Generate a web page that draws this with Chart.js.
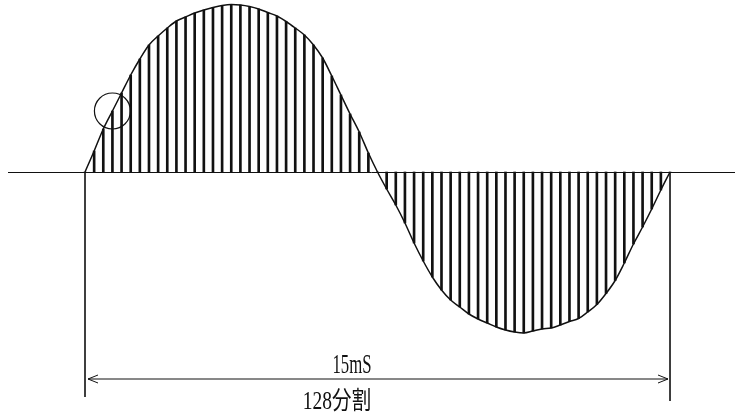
<!DOCTYPE html>
<html>
<head>
	<title>128 sample waveform</title>
	<script src="https://cdn.jsdelivr.net/npm/chart.js@4.4.1/dist/chart.umd.min.js"></script>
	<style>
		html, body { margin: 0; padding: 0; background: #fff; overflow: hidden; }
		canvas { display: block; }
	</style>
</head>
<body>
	<canvas id="wave" width="735" height="414"></canvas>
<script>
	var upperHalf = [0, 21, 43, 61, 79, 97, 113, 127, 136, 144, 151, 155, 159, 162, 164.5, 166.5,
		167.5, 167, 165.5, 163, 159.5, 156, 150.5, 144, 137, 127, 114, 96, 77, 58, 40, 19, 0];
	var lowerHalf = [-17, -33, -51, -71, -89, -105, -118, -128, -135, -142, -147, -151, -155, -158, -160, -161,
		-159, -157, -156, -153, -149.5, -146.5, -140, -132.5, -121.5, -108.5, -91, -72, -55, -37, -18, 0];
	var wave = upperHalf.concat(lowerHalf);
	var steps = wave.map(function (v, i) { return i; });

	var spanLabel = '15mS';
	var divLabel = '128分割';
	var markedStep = 3;   // sample ringed on the rising edge

	// draws text squeezed horizontally, like the narrow lettering of the drawing
	function narrowText(ctx, text, cx, base, size, squeeze) {
		ctx.save();
		ctx.font = size + 'px "Liberation Serif", "Noto Sans CJK JP"';
		ctx.translate(cx, base);
		ctx.scale(squeeze, 1);
		ctx.fillText(text, 0, 0);
		ctx.restore();
	}

	// base line, extension lines, dimension arrow and texts
	var dimensionPlugin = {
		id: 'dimension',
		afterDatasetsDraw: function (chart) {
			var ctx = chart.ctx, x = chart.scales.x, y = chart.scales.y;
			var area = chart.chartArea;
			var y0 = y.getPixelForValue(0);
			var xs = x.getPixelForValue(steps[0]);
			var xe = x.getPixelForValue(steps[steps.length - 1]);
			var dimY = 379;
			ctx.save();
			ctx.strokeStyle = '#111';
			ctx.lineWidth = 1;
			ctx.beginPath();
			ctx.moveTo(area.left, y0 + 0.5);
			ctx.lineTo(area.right, y0 + 0.5);
			ctx.stroke();

			ctx.lineWidth = 1.6;
			ctx.beginPath();
			ctx.moveTo(xs, y0); ctx.lineTo(xs, 397);
			ctx.moveTo(xe, y0); ctx.lineTo(xe, 401);
			ctx.stroke();

			ctx.lineWidth = 1;
			ctx.beginPath();
			ctx.moveTo(xs + 3, dimY); ctx.lineTo(xe - 2, dimY);
			ctx.moveTo(xs + 13, dimY - 4); ctx.lineTo(xs + 3, dimY); ctx.lineTo(xs + 13, dimY + 4);
			ctx.moveTo(xe - 12, dimY - 4); ctx.lineTo(xe - 2, dimY); ctx.lineTo(xe - 12, dimY + 4);
			ctx.stroke();

			ctx.fillStyle = '#111';
			ctx.strokeStyle = '#111';
			ctx.lineWidth = 0.5;
			ctx.textAlign = 'center';
			ctx.textBaseline = 'alphabetic';
			narrowText(ctx, spanLabel, 352, 373, 27, 0.62);
			narrowText(ctx, divLabel, 337, 409, 25, 0.78);
			ctx.restore();
		}
	};

	var chart = new Chart(document.getElementById('wave'), {
		type: 'bar',
		data: {
			labels: steps,
			datasets: [{
				type: 'line',
				data: wave,
				borderColor: '#111',
				borderWidth: 1.5,
				pointRadius: 0,
				cubicInterpolationMode: 'monotone',
				clip: false,
				order: 0
			}, {
				type: 'scatter',
				data: [{ x: markedStep, y: wave[markedStep] }],
				pointRadius: 18,
				pointHoverRadius: 18,
				backgroundColor: 'rgba(0,0,0,0)',
				borderColor: '#111',
				borderWidth: 1.2,
				order: 1
			}, {
				data: wave,
				backgroundColor: '#111',
				barThickness: 2,
				order: 2
			}]
		},
		options: {
			responsive: false,
			animation: false,
			events: [],
			layout: { autoPadding: false, padding: { left: 8, right: 0, top: 0, bottom: 0 } },
			plugins: { legend: { display: false }, tooltip: { enabled: false } },
			scales: {
				x: { type: 'linear', display: false, min: -8.424, max: 71.11, offset: false },
				y: { display: false, min: -242, max: 172 }
			}
		},
		plugins: [dimensionPlugin]
	});
</script>
</body>
</html>
